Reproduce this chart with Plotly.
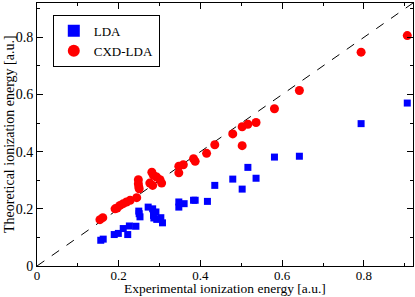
import plotly.graph_objects as go

# LDA (blue squares)
lda_x = [0.156, 0.162, 0.189, 0.199, 0.211, 0.222, 0.226, 0.242, 0.249, 0.250, 0.252,
         0.272, 0.283, 0.285, 0.291, 0.286, 0.293, 0.303, 0.307, 0.347, 0.347, 0.360,
         0.383, 0.387, 0.417, 0.435, 0.479, 0.502, 0.516, 0.536, 0.581, 0.642, 0.793, 0.906]
lda_y = [0.090, 0.094, 0.110, 0.114, 0.131, 0.110, 0.140, 0.139, 0.192, 0.183, 0.172,
         0.206, 0.200, 0.177, 0.189, 0.168, 0.163, 0.169, 0.151, 0.206, 0.224, 0.218,
         0.230, 0.230, 0.226, 0.282, 0.304, 0.269, 0.345, 0.307, 0.381, 0.384, 0.498, 0.570]

# CXD-LDA (red circles)
cxd_x = [0.154, 0.161, 0.191, 0.196, 0.203, 0.211, 0.219, 0.228, 0.244, 0.248, 0.248, 0.249,
         0.250, 0.276, 0.281, 0.285, 0.293, 0.301, 0.305, 0.283, 0.347, 0.347, 0.358,
         0.383, 0.387, 0.415, 0.435, 0.479, 0.502, 0.502, 0.516, 0.536, 0.581, 0.642,
         0.793, 0.906]
cxd_y = [0.162, 0.169, 0.200, 0.203, 0.212, 0.218, 0.224, 0.230, 0.239, 0.302, 0.288, 0.277,
         0.270, 0.290, 0.328, 0.317, 0.311, 0.302, 0.290, 0.282, 0.326, 0.349, 0.354,
         0.375, 0.366, 0.394, 0.424, 0.462, 0.487, 0.421, 0.496, 0.502, 0.550, 0.614,
         0.748, 0.806]

diag = [0, 0.92]
tick_vals = [0, 0.2, 0.4, 0.6, 0.8]
tick_text = ["0", "0.2", "0.4", "0.6", "0.8"]
x_title = "Experimental ionization energy [a.u.]"
y_title = "Theoretical ionization energy [a.u.]"

font = "Liberation Serif, Times New Roman, serif"

fig = go.Figure()
fig.add_trace(go.Scatter(x=diag, y=diag, mode="lines", showlegend=False,
                         line=dict(color="black", width=1, dash="dash"), hoverinfo="skip"))
fig.add_trace(go.Scatter(x=lda_x, y=lda_y, mode="markers", name="LDA",
                         marker=dict(symbol="square", size=7, color="#0000ff")))
fig.add_trace(go.Scatter(x=cxd_x, y=cxd_y, mode="markers", name="CXD-LDA",
                         marker=dict(symbol="circle", size=9, color="#ff0000")))

axis_common = dict(
    range=[0, 0.92], tickvals=tick_vals, ticktext=tick_text, automargin=False,
    ticks="inside", ticklen=6, tickwidth=1, tickcolor="black",
    showline=True, linecolor="black", linewidth=1, mirror="ticks",
    showgrid=False, zeroline=False,
    minor=dict(dtick=0.1, tick0=0, ticks="inside", ticklen=3, tickcolor="black", showgrid=False),
)

fig.update_layout(
    width=415, height=297,
    margin=dict(l=37, r=2, t=3, b=31),
    paper_bgcolor="white", plot_bgcolor="white",
    font=dict(family=font, size=13, color="black"),
    xaxis=dict(**axis_common, ticklabelstandoff=-3,
               tickfont=dict(family=font, size=13, color="black")),
    yaxis=dict(**axis_common, tickfont=dict(family=font, size=14, color="black")),
    legend=dict(x=0.042, y=0.955, xanchor="left", yanchor="top",
                bordercolor="black", borderwidth=1, bgcolor="white",
                itemwidth=30, itemsizing="constant",
                font=dict(family=font, size=13), tracegroupgap=0),
    showlegend=True,
    annotations=[
        dict(text=x_title, xref="paper", yref="paper", x=0.5, y=0, yshift=-31,
             xanchor="center", yanchor="bottom", showarrow=False, borderpad=0,
             font=dict(family=font, size=13.5, color="black")),
        dict(text=y_title, xref="paper", yref="paper", x=0, y=0.5, xshift=-37,
             xanchor="left", yanchor="middle", textangle=-90, showarrow=False,
             font=dict(family=font, size=14, color="black")),
    ],
)

fig.write_html("out.html", config={"displayModeBar": False},
               post_script="document.body.style.margin='0';document.body.style.padding='0';")
